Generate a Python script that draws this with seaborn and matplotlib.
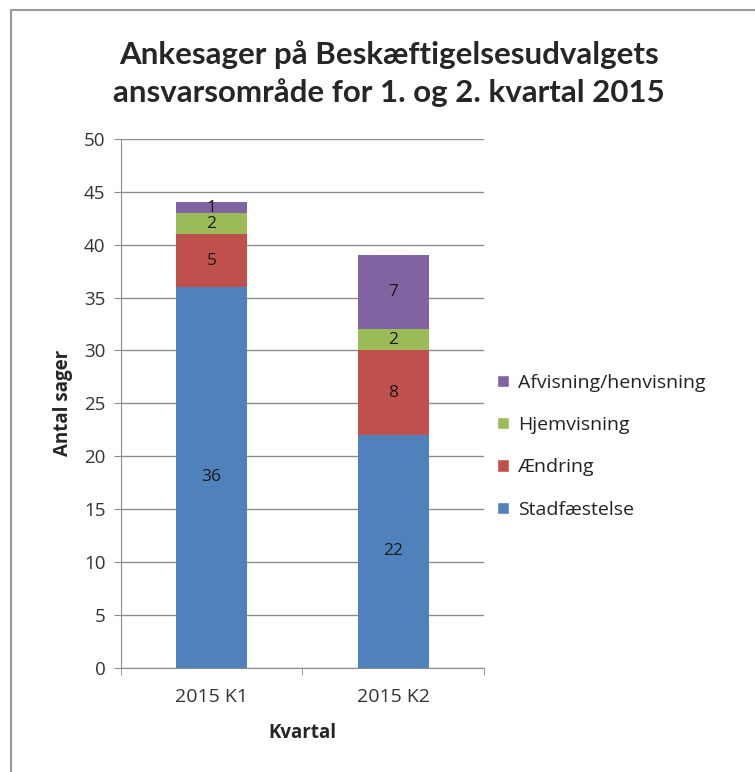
"""Stacked bar chart: Ankesager paa Beskaeftigelsesudvalgets ansvarsomraade."""
import matplotlib
matplotlib.use('Agg')
import matplotlib.pyplot as plt
from matplotlib.lines import Line2D
from matplotlib.patches import Patch
import seaborn as sns
import pandas as pd
import numpy as np

# data
kvartaler = ["2015 K1", "2015 K2"]
serier = ["Stadfæstelse", "Ændring", "Hjemvisning", "Afvisning/henvisning"]
stadfaestelse = [36, 22]
aendring = [5, 8]
hjemvisning = [2, 2]
afvisning = [1, 7]
farver = ["#4F81BD", "#C0504D", "#9BBB59", "#8064A2"]

værdier = np.array([stadfaestelse, aendring, hjemvisning, afvisning])
kumuleret = værdier.cumsum(axis=0)

sns.set_style("white")
plt.rcParams['font.family'] = ['Open Sans', 'DejaVu Sans']

fig = plt.figure(figsize=(7.55, 7.72), dpi=100)
ax = fig.add_axes([0.160, 0.135, 0.481, 0.685])

# draw the stack back to front: totals first, then smaller cumulative sums
for i in range(len(serier) - 1, -1, -1):
    df = pd.DataFrame({"Kvartal": kvartaler, "Antal": kumuleret[i]})
    sns.barplot(data=df, x="Kvartal", y="Antal", color=farver[i],
                saturation=1, width=0.39, linewidth=0, ax=ax, zorder=2)

# data labels in the middle of each segment
for i in range(len(serier)):
    for j in range(len(kvartaler)):
        bund = kumuleret[i][j] - værdier[i][j]
        ax.text(j, bund + værdier[i][j] / 2, str(værdier[i][j]),
                ha='center', va='center', fontsize=12.5, color='#1a1a1a', zorder=3)

ax.set_ylim(0, 50)
ax.set_xlim(-0.5, 1.5)
ax.set_yticks(range(0, 51, 5))
ax.yaxis.grid(True, color='#8c8c8c', linewidth=1)
ax.set_axisbelow(True)
for s in ['top', 'right']:
    ax.spines[s].set_visible(False)
ax.spines['left'].set_color('#8c8c8c')
ax.spines['bottom'].set_color('#8c8c8c')
ax.tick_params(axis='y', which='both', left=True, length=5, color='#8c8c8c',
               labelsize=13.5, labelcolor='#333333', pad=6)
ax.tick_params(axis='x', bottom=False, labelsize=14, labelcolor='#333333', pad=11)
ax.set_xticks([0, 1])
ax.set_xticklabels(kvartaler)
ax.set_xticks([-0.5, 0.5, 1.5], minor=True)
ax.tick_params(axis='x', which='minor', bottom=True, length=5, color='#8c8c8c')

ax.set_ylabel("Antal sager", fontsize=13.5, fontweight='bold', labelpad=8)
ax.set_xlabel("Kvartal", fontsize=13.5, fontweight='bold', labelpad=12)

fig.text(0.515, 0.905,
         "Ankesager på Beskæftigelsesudvalgets\nansvarsområde for 1. og 2. kvartal 2015",
         ha='center', va='center', fontsize=22.5, fontweight='bold', linespacing=1.4,
         family=['Lato', 'DejaVu Sans'])

handles = [Patch(facecolor=farver[i], label=serier[i]) for i in range(len(serier) - 1, -1, -1)]
fig.legend(handles=handles, loc='center left', bbox_to_anchor=(0.635, 0.422),
           frameon=False, fontsize=14, handlelength=0.6, handleheight=0.6,
           handletextpad=0.5, labelspacing=1.25, labelcolor='#222222')

# outer chart border (top and left only visible in the reference)
fig.add_artist(Line2D([0.0146, 0.0146], [0, 0.987], color='#9a9a9a', lw=1.5,
                      transform=fig.transFigure))
fig.add_artist(Line2D([0.0146, 1.0], [0.987, 0.987], color='#9a9a9a', lw=1.5,
                      transform=fig.transFigure))

fig.savefig("out.png", dpi=100)
plt.close(fig)
